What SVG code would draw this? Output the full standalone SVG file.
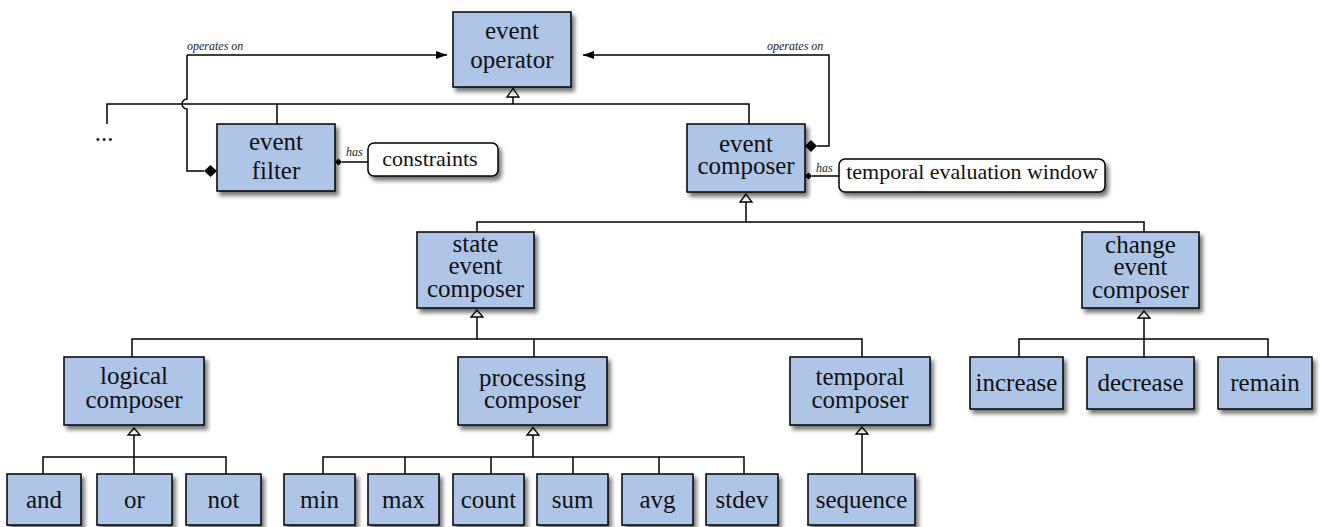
<svg xmlns="http://www.w3.org/2000/svg" width="1322" height="527" viewBox="0 0 1322 527">
<defs>
<filter id="sh" x="-10%" y="-10%" width="130%" height="140%">
<feDropShadow dx="3" dy="4" stdDeviation="2" flood-color="#000" flood-opacity="0.55"/>
</filter>
<marker id="arr" markerWidth="12" markerHeight="10" refX="11" refY="5" orient="auto" markerUnits="userSpaceOnUse">
<path d="M0,1 L11,5 L0,9 Z" fill="#000"/>
</marker>
</defs>
<style>
.n{fill:#aec5e8;stroke:#000;stroke-width:1.5;filter:url(#sh)}
.a{fill:#fff;stroke:#000;stroke-width:1.5;filter:url(#sh)}
text{font-family:'Liberation Serif','Times New Roman',serif;fill:#111}
.t{font-size:25px;text-anchor:middle}
.at{font-size:22px;text-anchor:middle}
.lb{font-size:12px;font-style:italic;fill:#222}
.c{fill:none;stroke:#000;stroke-width:1.5}
.tri{fill:#fff;stroke:#000;stroke-width:1.3}
.d{fill:#000}
</style>
<g id="connectors">
<path class="c" d="M107,124 V104 H749 V124"/>
<path class="c" d="M277,104 V124"/>
<path class="c" d="M513,97 V104"/>
<polygon class="tri" points="513,88.5 507,97 519,97"/>
<path class="c" d="M187,55 V99 A5,5 0 0 0 187,109 V171 H204"/>
<path class="c" d="M187,55 H447" marker-end="url(#arr)"/>
<polygon class="d" points="204,171 210.5,165 217,171 210.5,177"/>
<text class="lb" x="187" y="50">operates on</text>
<path class="c" d="M817,146 H829 V55 H583" marker-end="url(#arr)"/>
<polygon class="d" points="805,146 811,140 817,146 811,152"/>
<text class="lb" x="767" y="50">operates on</text>
<path class="c" d="M342,162 H368"/>
<polygon class="d" points="335,162 338.5,158.5 342,162 338.5,165.5"/>
<text class="lb" x="346" y="156">has</text>
<path class="c" d="M812,176 H839"/>
<polygon class="d" points="805,176 808.5,172.5 812,176 808.5,179.5"/>
<text class="lb" x="816" y="172">has</text>
<path class="c" d="M477,232 V222 H1144 V232"/>
<path class="c" d="M746,202 V222"/>
<polygon class="tri" points="746,194 740,202 752,202"/>
<path class="c" d="M132,357 V339 H862 V357"/>
<path class="c" d="M534,339 V357"/>
<path class="c" d="M477,317 V339"/>
<polygon class="tri" points="477,310 471,317 483,317"/>
<path class="c" d="M1019,357 V339 H1268 V357"/>
<path class="c" d="M1144,318 V357"/>
<polygon class="tri" points="1144,311 1138,318 1150,318"/>
<path class="c" d="M43,474 V457 H226 V474"/>
<path class="c" d="M134,435 V474"/>
<polygon class="tri" points="134,428 128,435 140,435"/>
<path class="c" d="M323,474 V457 H744 V474"/>
<path class="c" d="M405,457 V474 M491,457 V474 M573,457 V474 M659,457 V474"/>
<path class="c" d="M533,435 V457"/>
<polygon class="tri" points="533,427.5 527,435 539,435"/>
<path class="c" d="M862,434 V474"/>
<polygon class="tri" points="862,427 856,434 868,434"/>
</g>
<text class="t" x="104" y="141">...</text>
<g id="event-operator"><rect class="n" x="453" y="12" width="118" height="75"/><text class="t" x="512" y="39">event</text><text class="t" x="512" y="68">operator</text></g>
<g id="event-filter"><rect class="n" x="217" y="124" width="118" height="67"/><text class="t" x="276" y="150">event</text><text class="t" x="276" y="179">filter</text></g>
<g id="constraints"><rect class="a" x="368" y="143" width="130" height="33" rx="6"/><text class="at" x="430" y="166">constraints</text></g>
<g id="event-composer"><rect class="n" x="687" y="124" width="118" height="68"/><text class="t" x="746" y="152">event</text><text class="t" x="746" y="174">composer</text></g>
<g id="temporal-evaluation-window"><rect class="a" x="839" y="159" width="266" height="33" rx="6"/><text class="at" x="972" y="179">temporal evaluation window</text></g>
<g id="state-event-composer"><rect class="n" x="417" y="232" width="117" height="76"/><text class="t" x="475.5" y="252">state</text><text class="t" x="475.5" y="274">event</text><text class="t" x="475.5" y="297">composer</text></g>
<g id="change-event-composer"><rect class="n" x="1082" y="232" width="117" height="76"/><text class="t" x="1140.5" y="253">change</text><text class="t" x="1140.5" y="275">event</text><text class="t" x="1140.5" y="298">composer</text></g>
<g id="logical-composer"><rect class="n" x="64" y="357" width="140" height="68"/><text class="t" x="134" y="384">logical</text><text class="t" x="134" y="408">composer</text></g>
<g id="processing-composer"><rect class="n" x="458" y="357" width="149" height="68"/><text class="t" x="532.5" y="386">processing</text><text class="t" x="532.5" y="408">composer</text></g>
<g id="temporal-composer"><rect class="n" x="790" y="357" width="140" height="68"/><text class="t" x="860" y="385">temporal</text><text class="t" x="860" y="408">composer</text></g>
<g id="increase"><rect class="n" x="970" y="357" width="93" height="52"/><text class="t" x="1016.5" y="391">increase</text></g>
<g id="decrease"><rect class="n" x="1087" y="357" width="107" height="52"/><text class="t" x="1140.5" y="391">decrease</text></g>
<g id="remain"><rect class="n" x="1218" y="357" width="94" height="52"/><text class="t" x="1265" y="391">remain</text></g>
<g id="and"><rect class="n" x="7" y="474" width="74" height="51"/><text class="t" x="44" y="508">and</text></g>
<g id="or"><rect class="n" x="97" y="474" width="75" height="51"/><text class="t" x="134.5" y="508">or</text></g>
<g id="not"><rect class="n" x="186" y="474" width="75" height="51"/><text class="t" x="223.5" y="508">not</text></g>
<g id="min"><rect class="n" x="284" y="474" width="71" height="51"/><text class="t" x="319.5" y="508">min</text></g>
<g id="max"><rect class="n" x="368" y="474" width="71" height="51"/><text class="t" x="403.5" y="508">max</text></g>
<g id="count"><rect class="n" x="453" y="474" width="71" height="51"/><text class="t" x="488.5" y="508">count</text></g>
<g id="sum"><rect class="n" x="537" y="474" width="71" height="51"/><text class="t" x="572.5" y="508">sum</text></g>
<g id="avg"><rect class="n" x="622" y="474" width="71" height="51"/><text class="t" x="657.5" y="508">avg</text></g>
<g id="stdev"><rect class="n" x="706" y="474" width="72" height="51"/><text class="t" x="742" y="508">stdev</text></g>
<g id="sequence"><rect class="n" x="808" y="474" width="107" height="51"/><text class="t" x="861.5" y="508">sequence</text></g>
</svg>
